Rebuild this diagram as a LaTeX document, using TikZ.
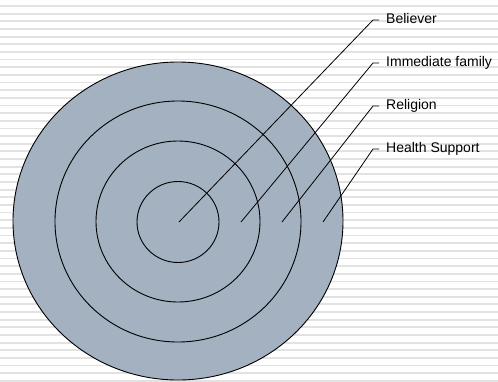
\documentclass[tikz,border=0pt]{standalone}
\usepackage{fontspec}
\setmainfont{Liberation Sans}
\usepackage{tikz}
\usetikzlibrary{positioning}
\definecolor{ringgray}{RGB}{163, 177, 192}
\definecolor{stripegray}{RGB}{226, 226, 226}
\tikzset{
 stripe/.style={
 draw=stripegray,
 line width=1.8pt
 },
 ring/.style={
 fill=ringgray,
 draw=black,
 line width=0.9pt
 },
 leader/.style={
 draw=black,
 line width=0.8pt
 },
 layerlabel/.style={
 anchor=west,
 inner xsep=7pt,
 inner ysep=0pt,
 text height=10pt,
 text depth=3pt,
 font=\fontsize{14}{16}\selectfont
 }
}

\begin{document}
\begin{tikzpicture}[x=1pt, y=-1pt]
 \useasboundingbox (0,0) rectangle (498,381);
 \fill[white] (0,0) rectangle (498,381);
 \foreach \k in {0,...,49}
 \draw[stripe] (0,6+7.65*\k) -- (498,6+7.65*\k);

 % rings, outermost first
 \draw[ring] (178,221) ellipse [x radius=165, y radius=159];
 \draw[ring] (178,221.5) ellipse [x radius=123, y radius=120.5];
 \draw[ring] (178,221.5) ellipse [x radius=82, y radius=80.5];
 \draw[ring] (178,222) ellipse [x radius=41, y radius=40.5];

 \coordinate (core) at (179,222);
 \coordinate (family) at (241,222);
 \coordinate (faith) at (282,222);
 \coordinate (health) at (323,222);

 \node[layerlabel] (believer) at (379,20) {Believer};
 \node[layerlabel] (immediate) at (379,63) {Immediate family};
 \node[layerlabel] (religion) at (379,106) {Religion};
 \node[layerlabel] (support) at (379,149) {Health Support};

 \draw[leader] (core) -- ([xshift=-6pt]believer.west) -- (believer.west);
 \draw[leader] (family) -- ([xshift=-6pt]immediate.west) -- (immediate.west);
 \draw[leader] (faith) -- ([xshift=-6pt]religion.west) -- (religion.west);
 \draw[leader] (health) -- ([xshift=-6pt]support.west) -- (support.west);
\end{tikzpicture}
\end{document}
